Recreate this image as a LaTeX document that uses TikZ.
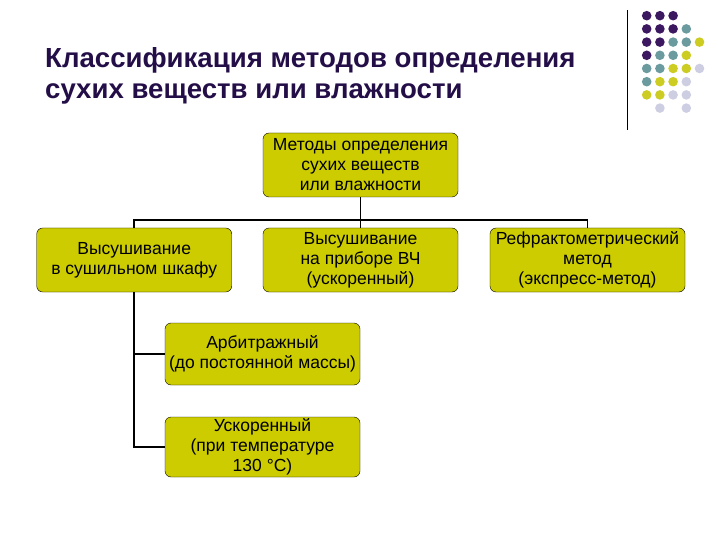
\documentclass[tikz,border=0pt]{standalone}
\usepackage{fontspec}
\setmainfont{Liberation Sans}
\usetikzlibrary{positioning}
\definecolor{titlepurple}{RGB}{36,14,72}
\definecolor{boxolive}{RGB}{204,204,0}
\definecolor{dotpurple}{RGB}{60,24,96}
\definecolor{dotteal}{RGB}{107,155,158}
\definecolor{dotyellow}{RGB}{204,204,34}
\definecolor{dotlilac}{RGB}{206,206,226}

\begin{document}
\begin{tikzpicture}[x=1bp,y=-1bp,
  method/.style={draw=black,fill=boxolive,rounded corners=6bp,minimum width=195bp,
    minimum height=64bp,inner sep=0pt,align=center,font=\fontsize{17.5bp}{20bp}\selectfont},
  wire/.style={line width=1.6bp},
  heading/.style={anchor=base west,inner sep=0pt,text=titlepurple,font=\fontsize{27.6bp}{30bp}\selectfont\bfseries}]
  \useasboundingbox (0,0) rectangle (720,540);

  % title and corner dots
  \node[heading] (title1) at (45,68) {Классификация методов определения};
  \node[heading] (title2) at (45,98.5) {сухих веществ или влажности};
  \draw[line width=1bp] (627.5,10) -- (627.5,130);
  \foreach \c/\r/\col in {0/0/dotpurple,1/0/dotpurple,2/0/dotpurple,
      0/1/dotpurple,1/1/dotpurple,2/1/dotpurple,3/1/dotteal,
      0/2/dotpurple,1/2/dotpurple,2/2/dotteal,3/2/dotteal,4/2/dotyellow,
      0/3/dotpurple,1/3/dotteal,2/3/dotteal,3/3/dotyellow,
      0/4/dotteal,1/4/dotteal,2/4/dotyellow,3/4/dotyellow,4/4/dotlilac,
      0/5/dotteal,1/5/dotyellow,2/5/dotyellow,3/5/dotlilac,
      0/6/dotyellow,1/6/dotyellow,2/6/dotlilac,3/6/dotlilac,
      1/7/dotlilac,3/7/dotlilac}
    \fill[\col] (646.7+13.2*\c,15.7+13.2*\r) circle (4.8bp);

  % boxes
  \node[method] (methods) at (360.5,165) {Методы определения\\сухих веществ\\или влажности};
  \node[method] (dryoven) at (134.2,260) {Высушивание\\в сушильном шкафу};
  \node[method] (hfdevice) at (360.5,260) {Высушивание\\на приборе ВЧ\\(ускоренный)};
  \node[method] (refract) at (587.5,260) {Рефрактометрический\\метод\\(экспресс-метод)};
  \node[method,minimum height=62bp] (arbitr) at (262.5,354) {Арбитражный\\(до постоянной массы)};
  \node[method,minimum height=60bp] (rapid) at (262.5,447) {Ускоренный\\(при температуре\\130 °C)};

  % connectors
  \coordinate (bus) at (360.5,220);
  \draw[wire] (methods) -- (bus);
  \draw[wire] (dryoven) |- (bus) -| (refract);
  \draw[wire] (bus) -- (hfdevice);
  \draw[wire] (dryoven) |- (arbitr);
  \draw[wire] (dryoven) |- (rapid);
\end{tikzpicture}
\end{document}
